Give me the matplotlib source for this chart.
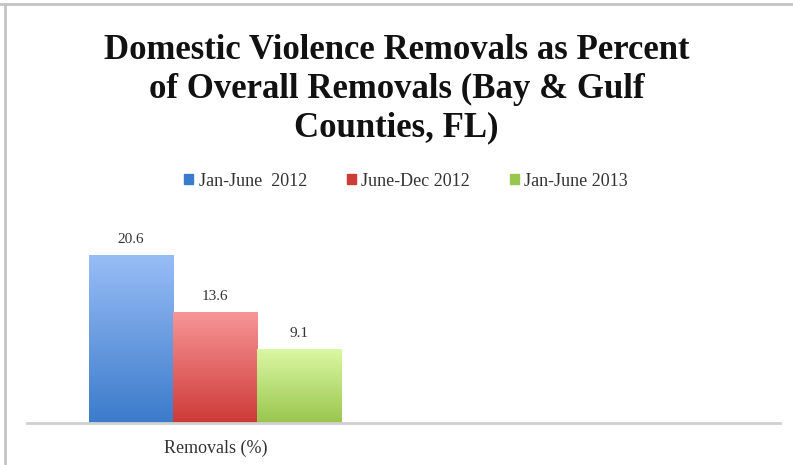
import numpy as np
from matplotlib import pyplot as plt
from matplotlib.lines import Line2D
from matplotlib.colors import LinearSegmentedColormap

# data
categories = ['Removals (%)', '']
series_names = ['Jan-June  2012', 'June-Dec 2012', 'Jan-June 2013']
series_values = [[20.6, 0], [13.6, 0], [9.1, 0]]
# gradient colours (top, bottom) per series
series_colors = [('#98bdf6', '#3b7bcb'), ('#f79696', '#cd3a38'), ('#dcf8a4', '#99c64e')]

W, H = 793, 465
fig = plt.figure(figsize=(W / 100, H / 100), dpi=100)
ax = fig.add_axes([27 / W, 1 - 423 / H, (780 - 27) / W, (423 - 230) / H])

x = np.arange(len(categories))
width = 0.2234
ylim = (0, 192 / 8.1)

grad = np.linspace(0, 1, 256).reshape(-1, 1)
for i, (name, vals, cols) in enumerate(zip(series_names, series_values, series_colors)):
    offs = x + (i - 1) * width
    bars = ax.bar(offs, vals, width, color='none', label=name, linewidth=0)
    cmap = LinearSegmentedColormap.from_list('g%d' % i, [cols[1], cols[0]])
    for b, v in zip(bars, vals):
        if v <= 0:
            continue
        im = ax.imshow(grad, cmap=cmap, origin='lower', aspect='auto',
                       extent=[b.get_x(), b.get_x() + b.get_width(), 0, v], zorder=2)
        im.set_clip_path(b)
        ax.text(b.get_x() + b.get_width() / 2, v + 1.1, '%g' % v, ha='center', va='bottom',
                fontsize=11, family='Liberation Serif', color='#333333')
# restore limits changed by imshow
ax.set_xlim(-0.5, len(categories) - 0.5)
ax.set_ylim(*ylim)

for s in ['top', 'right', 'left']:
    ax.spines[s].set_visible(False)
ax.spines['bottom'].set_color('#d0d0d0')
ax.spines['bottom'].set_linewidth(2)
ax.set_yticks([])
ax.set_xticks(x)
ax.set_xticklabels(categories, family='Liberation Serif', fontsize=13, color='#333333')
ax.tick_params(axis='x', length=0, pad=12)

# legend keys
handles = [plt.Rectangle((0, 0), 1, 1, color=c[1]) for c in series_colors]
fig.legend(handles, series_names, loc='center', bbox_to_anchor=(406 / W, 1 - 181 / H),
           ncol=3, frameon=False, prop={'family': 'Liberation Serif', 'size': 13},
           handlelength=0.5, handleheight=0.5, handletextpad=0.3, columnspacing=2.2,
           labelcolor='#333333')

fig.text(0.5, 1 - 89 / H, 'Domestic Violence Removals as Percent\nof Overall Removals (Bay & Gulf\nCounties, FL)',
         ha='center', va='center', fontsize=25, fontweight='bold',
         family='Liberation Serif', linespacing=1.23, color='#111111')

# outer frame (top and left edges)
fig.add_artist(Line2D([0, 1], [1 - 4.5 / H, 1 - 4.5 / H], color='#c4c4c4', lw=2))
fig.add_artist(Line2D([4.5 / W, 4.5 / W], [0, 1 - 4.5 / H], color='#c4c4c4', lw=2))

fig.savefig('out.png', dpi=100)
